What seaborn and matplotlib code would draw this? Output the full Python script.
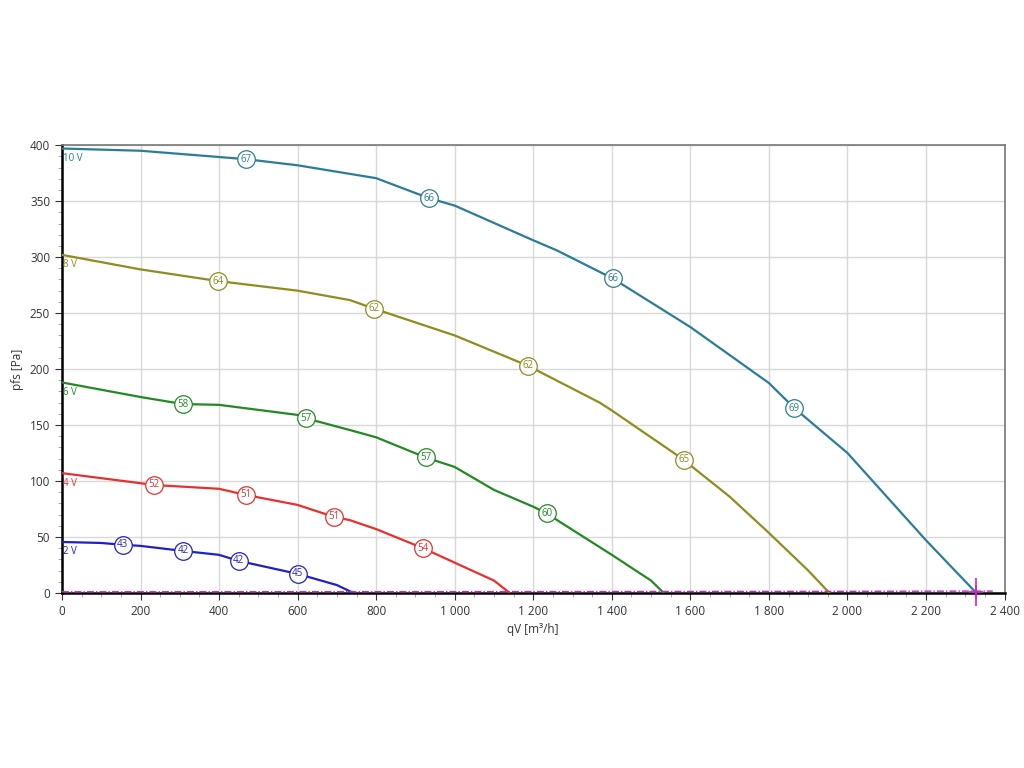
import matplotlib
matplotlib.use('Agg')
import matplotlib.pyplot as plt
import matplotlib.ticker as mticker
import numpy as np
import pandas as pd
import seaborn as sns

# fan curves per control voltage: airflow qV [m3/h] vs static pressure pfs [Pa]
qv_10 = [0, 200, 468, 600, 800, 934, 1000, 1200, 1260, 1402, 1600, 1800, 1865, 2000, 2200, 2328]
pfs_10 = [397, 395, 387.5, 382, 370.5, 352.7, 346, 315, 306, 281, 237.5, 187.5, 165, 125, 47, 0]
qv_8 = [0, 200, 397, 600, 733, 794, 1000, 1186, 1369, 1400, 1583, 1600, 1700, 1800, 1900, 1954]
pfs_8 = [302, 289, 278.6, 270, 261.6, 254, 230, 203, 170, 163, 119, 114, 86, 53.6, 20, 0]
qv_6 = [0, 200, 308, 400, 600, 621, 733, 800, 926, 1000, 1100, 1200, 1234, 1400, 1500, 1532]
pfs_6 = [188, 175, 168.7, 168, 159, 156, 145.5, 139, 121, 112.5, 92, 77, 71, 34, 11, 0]
qv_4 = [0, 200, 234, 400, 468, 600, 692, 733, 800, 919, 1000, 1100, 1140]
pfs_4 = [107, 98, 96.4, 93, 87.5, 78.6, 68, 65, 57, 40, 27, 11, 0]
qv_2 = [0, 100, 155, 200, 308, 400, 450, 600, 700, 742]
pfs_2 = [45.5, 44.6, 43, 42, 37.5, 34, 28.6, 17, 7, 0]

# acoustic labels (dB) on each curve: qV, pfs, label
marks_10 = ([468, 934, 1402, 1865], [387.5, 352.7, 281, 165], ['67', '66', '66', '69'])
marks_8 = ([397, 794, 1186, 1583], [278.6, 254, 203, 119], ['64', '62', '62', '65'])
marks_6 = ([308, 621, 926, 1234], [168.7, 156, 121, 71], ['58', '57', '57', '60'])
marks_4 = ([234, 468, 692, 919], [96.4, 87.5, 68, 40], ['52', '51', '51', '54'])
marks_2 = ([155, 308, 450, 600], [43, 37.5, 28.6, 17], ['43', '42', '42', '45'])

# system line near zero
qv_sys = [0, 1000, 2000, 2328, 2370]
pfs_sys = [1.0, 1.1, 1.4, 1.6, 1.6]
op_point = (2328, 0.5)

voltages = ['10 V', '8 V', '6 V', '4 V', '2 V']
colors = ['#2b7d97', '#8f8c20', '#238a23', '#e8302e', '#2020c8']

curves = [(qv_10, pfs_10), (qv_8, pfs_8), (qv_6, pfs_6), (qv_4, pfs_4), (qv_2, pfs_2)]
marks = [marks_10, marks_8, marks_6, marks_4, marks_2]

frames = []
for v, (q, p) in zip(voltages, curves):
    frames.append(pd.DataFrame({'qV': q, 'pfs': p, 'voltage': v}))
df = pd.concat(frames, ignore_index=True)

sns.set_style('white')
plt.rcParams['font.family'] = ['Open Sans', 'DejaVu Sans']

fig = plt.figure(figsize=(10.24, 7.68), dpi=100)
ax = fig.add_axes([0.0605, 0.228, 0.9205, 0.583])

sns.lineplot(data=df, x='qV', y='pfs', hue='voltage', palette=dict(zip(voltages, colors)),
             linewidth=1.6, legend=False, ax=ax, sort=False, zorder=3)

ax.plot(qv_sys, pfs_sys, color='#d020d0', linestyle=(0, (5, 1.5, 1, 1.5)), linewidth=1.0,
        zorder=4, clip_on=False)
ax.plot(*op_point, marker='|', color='#d020d0', markersize=20, markeredgewidth=1.2, zorder=5, clip_on=False)
ax.plot(*op_point, marker='+', color='#d020d0', markersize=10, markeredgewidth=1.2, zorder=5, clip_on=False)

for v, c, (q, p), (mq, mp, ml) in zip(voltages, colors, curves, marks):
    ax.text(2, p[0] - 4, v, color=c, fontsize=7, ha='left', va='top', zorder=6)
    ax.scatter(mq, mp, s=160, facecolor='white', edgecolor=c, linewidth=0.9, zorder=6)
    for x, y, t in zip(mq, mp, ml):
        ax.text(x, y, t, color=c, fontsize=7, ha='center', va='center', zorder=7)

ax.set_xlim(0, 2400)
ax.set_ylim(0, 400)
ax.xaxis.set_major_locator(mticker.MultipleLocator(200))
ax.xaxis.set_minor_locator(mticker.MultipleLocator(50))
ax.yaxis.set_major_locator(mticker.MultipleLocator(50))
ax.yaxis.set_minor_locator(mticker.MultipleLocator(10))
ax.xaxis.set_major_formatter(mticker.FuncFormatter(lambda v, _: f'{int(v):,}'.replace(',', ' ')))
ax.grid(True, which='major', color='#d8d8d8', linewidth=1)
ax.tick_params(which='major', length=5, labelsize=8.5, colors='#333333', direction='out')
ax.tick_params(which='minor', length=3, colors='#999999', direction='out')
ax.tick_params(axis='both', which='both', bottom=True, left=True)

for s in ['left', 'bottom']:
    ax.spines[s].set_color('black')
    ax.spines[s].set_linewidth(1.8)
for s in ['top', 'right']:
    ax.spines[s].set_color('#777777')
    ax.spines[s].set_linewidth(1.2)

ax.set_xlabel('qV [m³/h]', fontsize=8.5, color='#333333')
ax.set_ylabel('pfs [Pa]', fontsize=8.5, color='#333333')

fig.savefig('out.png', dpi=100)
